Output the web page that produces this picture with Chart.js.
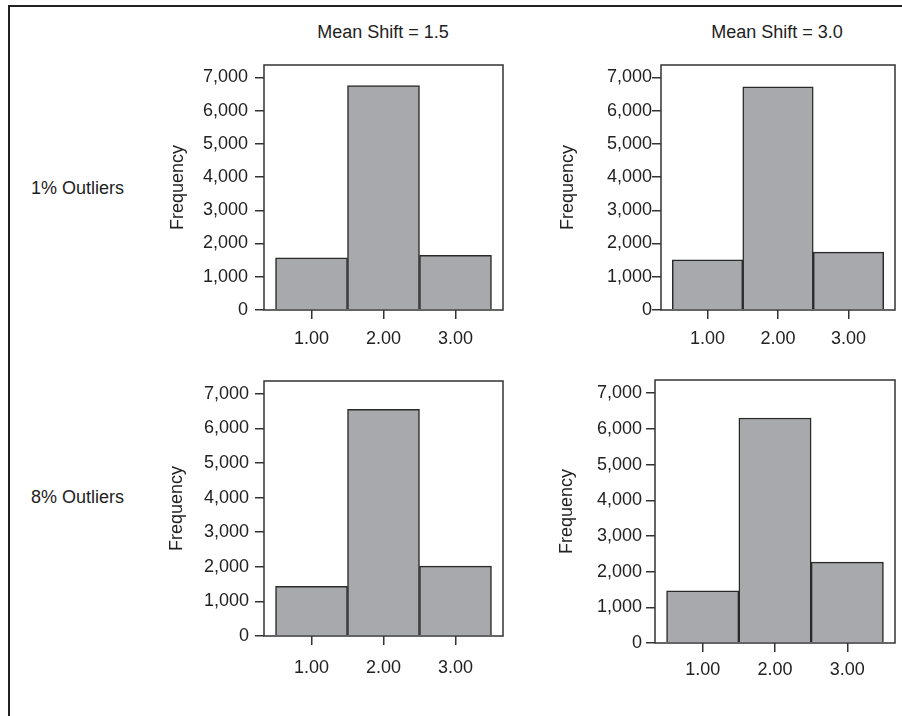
<!DOCTYPE html>
<html>
<head>
<meta charset="utf-8">
<script src="https://cdn.jsdelivr.net/npm/chart.js@4.4.1/dist/chart.umd.min.js"></script>
<style>
  body { margin: 0; background: #fff; width: 902px; height: 716px; overflow: hidden; position: relative; font-family: "Liberation Sans", Arial, sans-serif; color: #222; }
  .frame { position: absolute; left: 8px; top: 5px; width: 1000px; height: 1000px; border-left: 2px solid #222; border-top: 2px solid #222; }
  canvas { position: absolute; }
  .lbl { position: absolute; font-size: 18px; line-height: 18px; white-space: nowrap; }
  .col { transform: translate(-50%, -50%); }
  .row { transform: translateY(-50%); }
</style>
</head>
<body>
<div class="frame"></div>
<div class="lbl col" style="left:383px; top:32px;">Mean Shift = 1.5</div>
<div class="lbl col" style="left:777px; top:32px;">Mean Shift = 3.0</div>
<div class="lbl row" style="left:31px; top:188px;">1% Outliers</div>
<div class="lbl row" style="left:31px; top:497px;">8% Outliers</div>

<canvas id="p1" width="354" height="305" style="left:154px; top:55px;"></canvas>
<canvas id="p2" width="349" height="305" style="left:551px; top:55px;"></canvas>
<canvas id="p3" width="354" height="315" style="left:154px; top:371px;"></canvas>
<canvas id="p4" width="355" height="323" style="left:545px; top:370px;"></canvas>

<script>
const categories = [1, 2, 3];
const xLabels = ["1.00", "2.00", "3.00"];
const yTicks = [0, 1000, 2000, 3000, 4000, 5000, 6000, 7000];

// Frequency per bin
const shift15out1 = [1570, 6750, 1645];
const shift30out1 = [1510, 6710, 1740];
const shift15out8 = [1435, 6550, 2020];
const shift30out8 = [1460, 6305, 2265];

Chart.defaults.font.family = '"Liberation Sans", Arial, sans-serif';
Chart.defaults.font.size = 18;
Chart.defaults.color = '#222';

// box around the plot area
const boxPlugin = {
    id: 'box',
    afterDraw(chart) {
        const a = chart.chartArea;
        const ctx = chart.ctx;
        ctx.save();
        ctx.strokeStyle = '#333';
        ctx.lineWidth = 1.5;
        ctx.strokeRect(a.left, a.top, a.right - a.left, a.bottom - a.top);
        ctx.restore();
    }
};

function makePanel(id, values, p) {
    new Chart(document.getElementById(id), {
        type: 'bar',
        data: {
            datasets: [{
                data: categories.map((c, i) => ({ x: c, y: values[i] })),
                backgroundColor: '#a8a9ac',
                borderColor: '#2a2a2a',
                borderWidth: 1.5,
                barPercentage: 1,
                categoryPercentage: 1
            }]
        },
        options: {
            responsive: false,
            animation: false,
            layout: { padding: { top: 10, right: 5, left: 0, bottom: 0 } },
            scales: {
                x: {
                    type: 'linear',
                    offset: false,
                    min: 0.34,
                    max: 3.66,
                    afterBuildTicks: s => { s.ticks = categories.map(v => ({ value: v })); },
                    afterFit: s => { s.height = 50; s.paddingLeft = 0; s.paddingRight = 0; },
                    ticks: {
                        padding: p.xPad,
                        maxRotation: 0,
                        callback: (v) => xLabels[categories.indexOf(v)]
                    },
                    grid: { offset: false, drawOnChartArea: false, drawTicks: true, tickLength: 9, color: '#333', lineWidth: 1.5 },
                    border: { display: false }
                },
                y: {
                    min: 0,
                    max: 7370,
                    afterBuildTicks: s => { s.ticks = yTicks.map(v => ({ value: v })); },
                    afterFit: s => { s.width = 110; s.paddingTop = 0; s.paddingBottom = 0; },
                    ticks: {
                        padding: p.yPad,
                        callback: (v) => v.toLocaleString('en-US')
                    },
                    grid: { offset: false, drawOnChartArea: false, drawTicks: true, tickLength: 9, color: '#333', lineWidth: 1.5 },
                    border: { display: false },
                    title: { display: true, text: 'Frequency', padding: { top: p.titlePad, bottom: 0 } }
                }
            },
            plugins: {
                legend: { display: false },
                tooltip: { enabled: false }
            }
        },
        plugins: [boxPlugin]
    });
}

makePanel('p1', shift15out1, { xPad: 9, yPad: 7, titlePad: 13 });
makePanel('p2', shift30out1, { xPad: 9, yPad: 0, titlePad: 6 });
makePanel('p3', shift15out8, { xPad: 12, yPad: 6, titlePad: 12 });
makePanel('p4', shift30out8, { xPad: 7, yPad: 4, titlePad: 11 });
</script>
</body>
</html>
